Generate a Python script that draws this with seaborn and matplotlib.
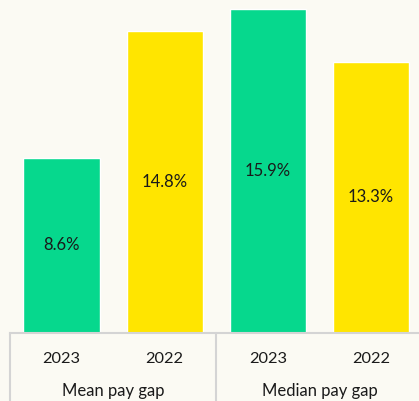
import matplotlib
matplotlib.use("Agg")
import matplotlib.pyplot as plt
import matplotlib.transforms as mtransforms
import seaborn as sns
import pandas as pd

groups = ["Mean pay gap", "Mean pay gap", "Median pay gap", "Median pay gap"]
years = ["2023", "2022", "2023", "2022"]
values = [8.6, 14.8, 15.9, 13.3]
labels = ["8.6%", "14.8%", "15.9%", "13.3%"]
colors = {"2023": "#06D88D", "2022": "#FFE500"}
bg = "#FBFAF3"

df = pd.DataFrame({"key": [f"{g} {y}" for g, y in zip(groups, years)],
                   "year": years, "value": values})

sns.set_theme(style="white")
plt.rcParams["font.family"] = ["Lato", "DejaVu Sans"]

fig = plt.figure(figsize=(4.19, 4.01), dpi=100, facecolor=bg)
ax = fig.add_axes([10 / 419, 68 / 401, 412.5 / 419, 333 / 401])
ax.set_facecolor(bg)

sns.barplot(data=df, x="key", y="value", hue="year", palette=colors,
            dodge=False, width=0.74, legend=False, ax=ax, saturation=1)

ax.set_xlim(-0.5, 3.5)
ax.set_ylim(0, 16.34)
for s in ["top", "right", "left"]:
    ax.spines[s].set_visible(False)
ax.spines["bottom"].set_color("#D4D4D4")
ax.spines["bottom"].set_linewidth(1.5)
ax.set_yticks([])
ax.set_xticks(range(len(years)))
ax.set_xticklabels(years, fontsize=11.8, color="#1A1A1A")
ax.tick_params(axis="x", length=0, pad=14)
ax.set_xlabel("")
ax.set_ylabel("")

for i, (v, lab) in enumerate(zip(values, labels)):
    ax.text(i, v / 2, lab, ha="center", va="center", fontsize=12, color="#1A1A1A")

trans = mtransforms.blended_transform_factory(ax.transData, fig.transFigure)
for xv in [-0.5, 1.5, 3.5]:
    ax.plot([xv, xv], [68 / 401, 0], color="#D4D4D4", lw=1.5, transform=trans, clip_on=False)

seen = []
for i, g in enumerate(groups):
    if g not in seen:
        seen.append(g)
        idx = [j for j, gg in enumerate(groups) if gg == g]
        xc = sum(idx) / len(idx)
        ax.text(xc, 10 / 401, g, transform=trans, ha="center", va="center",
                fontsize=12, color="#1A1A1A")

fig.savefig("out.png", dpi=100, facecolor=bg)
